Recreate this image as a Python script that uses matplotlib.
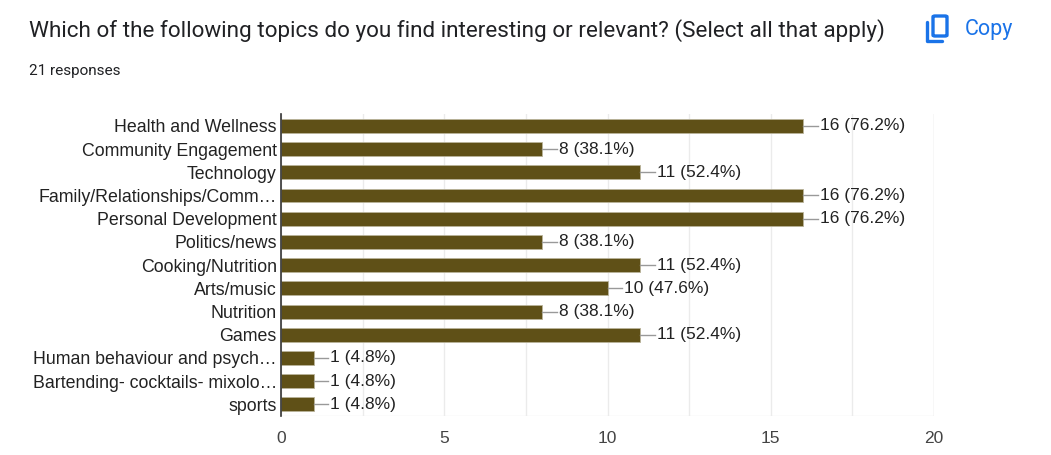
import matplotlib.pyplot as plt
from matplotlib.patches import FancyBboxPatch
import numpy as np

plt.rcParams['font.family'] = ['Liberation Sans', 'DejaVu Sans']

title = "Which of the following topics do you find interesting or relevant? (Select all that apply)"
n_responses = 21
topics = [
    "Health and Wellness",
    "Community Engagement",
    "Technology",
    "Family/Relationships/Comm\u2026",
    "Personal Development",
    "Politics/news",
    "Cooking/Nutrition",
    "Arts/music",
    "Nutrition",
    "Games",
    "Human behaviour and psych\u2026",
    "Bartending- cocktails- mixolo\u2026",
    "sports",
]
counts = [16, 8, 11, 16, 16, 8, 11, 10, 8, 11, 1, 1, 1]
xticks = [0, 5, 10, 15, 20]

bar_color = '#5f5017'
text_color = '#222222'

fig = plt.figure(figsize=(10.51, 4.55), dpi=100)
ax = fig.add_axes([0.2674, 0.0857, 0.6213, 0.6632])

y = np.arange(len(topics))
ax.barh(y, counts, height=0.6, color=bar_color, edgecolor='#b9b39a',
        linewidth=0.6, zorder=3)
ax.set_ylim(len(topics) - 0.5, -0.5)
ax.set_xlim(0, 20)
ax.set_yticks(y)
ax.set_yticklabels(topics, fontsize=12.75, color=text_color)
ax.set_xticks(xticks)
ax.set_xticklabels([str(t) for t in xticks], fontsize=12.5, color='#444444')
ax.set_xticks(np.arange(2.5, 20, 5), minor=True)
ax.tick_params(axis='both', which='both', length=0, pad=3)
ax.tick_params(axis='x', pad=11)
ax.grid(axis='x', which='both', color='#ebebeb', linewidth=1, zorder=0)
for s in ['top', 'right', 'bottom']:
    ax.spines[s].set_visible(False)
ax.spines['left'].set_color('#333333')
ax.spines['left'].set_linewidth(1.2)
ax.spines['left'].set_zorder(4)
ax.axhline(len(topics) - 0.5, color='#ebebeb', linewidth=1, zorder=0)
ax.axvline(20, color='#ebebeb', linewidth=1, zorder=0)

for yi, c in zip(y, counts):
    ax.plot([c, c + 0.45], [yi, yi], color='#999999', linewidth=1, zorder=3,
            clip_on=False)
    ax.text(c + 0.5, yi, f"{c} ({c / n_responses * 100:.1f}%)", va='center',
            ha='left', fontsize=12.5, color=text_color, zorder=5)

fig.text(29 / 1051, 1 - 31 / 455, title, fontsize=16.2, color='#202124',
         va='center', ha='left', family=['Roboto', 'DejaVu Sans'])
fig.text(29 / 1051, 1 - 71 / 455, f"{n_responses} responses", fontsize=11,
         color='#202124', va='center', ha='left', family=['Roboto', 'DejaVu Sans'])

# copy icon
blue = '#1a73e8'
fig.patches.append(FancyBboxPatch((933 / 1051, 1 - 36 / 455), 14 / 1051, 20 / 455,
                                  boxstyle='round,pad=0,rounding_size=0.002',
                                  transform=fig.transFigure, fill=False,
                                  edgecolor=blue, linewidth=2.4))
fig.lines.append(plt.Line2D([927 / 1051, 927 / 1051, 942 / 1051],
                            [1 - 22 / 455, 1 - 41 / 455, 1 - 41 / 455],
                            transform=fig.transFigure, color=blue, linewidth=2.4,
                            solid_capstyle='round', solid_joinstyle='round'))
fig.text(965 / 1051, 1 - 29 / 455, "Copy", fontsize=15.5, color=blue,
         va='center', ha='left', family=['Roboto', 'DejaVu Sans'])

fig.savefig('out.png', dpi=100)
